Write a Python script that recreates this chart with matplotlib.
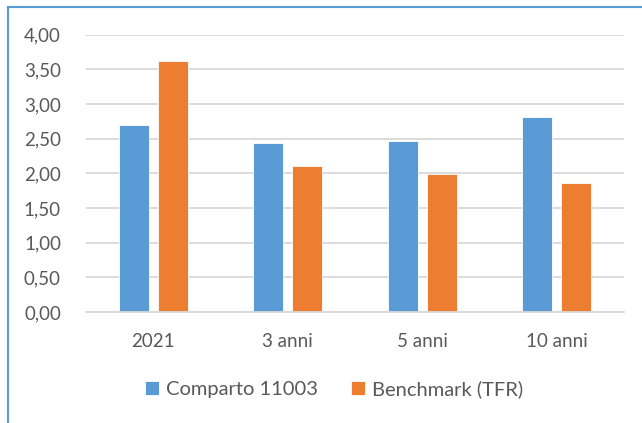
import matplotlib
matplotlib.use("Agg")
import matplotlib.pyplot as plt
from matplotlib.lines import Line2D
from matplotlib.ticker import FuncFormatter
import numpy as np

categories = ["2021", "3 anni", "5 anni", "10 anni"]
comparto = [2.70, 2.44, 2.46, 2.81]
benchmark = [3.62, 2.11, 1.99, 1.86]
series_names = ["Comparto 11003", "Benchmark (TFR)"]
yticks = [0.0, 0.5, 1.0, 1.5, 2.0, 2.5, 3.0, 3.5, 4.0]

blue = "#5B9BD5"
orange = "#ED7D31"
text_col = "#595959"
grid_col = "#D9D9D9"

plt.rcParams['font.family'] = ['Lato', 'DejaVu Sans']

W, H = 642, 423
fig = plt.figure(figsize=(W / 100, H / 100), dpi=100)
fig.patch.set_facecolor("white")

ax = fig.add_axes([86 / W, 1 - 312 / H, (624 - 86) / W, (312 - 34.7) / H])
x = np.arange(len(categories))
bw = 0.223
gap = 0.067
off = (bw + gap) / 2
ax.bar(x - off, comparto, width=bw, color=blue, edgecolor="white", linewidth=0.6,
       label=series_names[0], zorder=3)
ax.bar(x + off, benchmark, width=bw, color=orange, edgecolor="white", linewidth=0.6,
       label=series_names[1], zorder=3)

ax.set_xlim(-0.5, len(categories) - 0.5)
ax.set_ylim(0, 4)
ax.set_yticks(yticks)
ax.yaxis.set_major_formatter(FuncFormatter(lambda v, p: f"{v:.2f}".replace(".", ",")))
ax.set_xticks(x)
ax.set_xticklabels(categories)
ax.grid(axis="y", color=grid_col, linewidth=1.3, zorder=0)
for s in ["top", "right", "left"]:
    ax.spines[s].set_visible(False)
ax.spines["bottom"].set_color(grid_col)
ax.spines["bottom"].set_linewidth(1.3)
ax.spines["bottom"].set_zorder(4)
ax.tick_params(axis="both", length=0, labelsize=13.5, colors=text_col)
ax.tick_params(axis="y", pad=18)
ax.tick_params(axis="x", pad=15)

leg = fig.legend(loc="center", bbox_to_anchor=(334 / W, 1 - 389 / H), ncol=2,
                 frameon=False, fontsize=14.5, handlelength=0.7, handleheight=0.7,
                 handletextpad=0.35, columnspacing=1.6)
for t in leg.get_texts():
    t.set_color(text_col)

# outer border (blue)
fig.add_artist(Line2D([8 / W, 8 / W], [0, 1 - 7 / H], color=blue, linewidth=1.5,
                      transform=fig.transFigure))
fig.add_artist(Line2D([8 / W, 1], [1 - 7 / H, 1 - 7 / H], color=blue, linewidth=1.5,
                      transform=fig.transFigure))

fig.savefig("out.png", dpi=100, facecolor="white")
